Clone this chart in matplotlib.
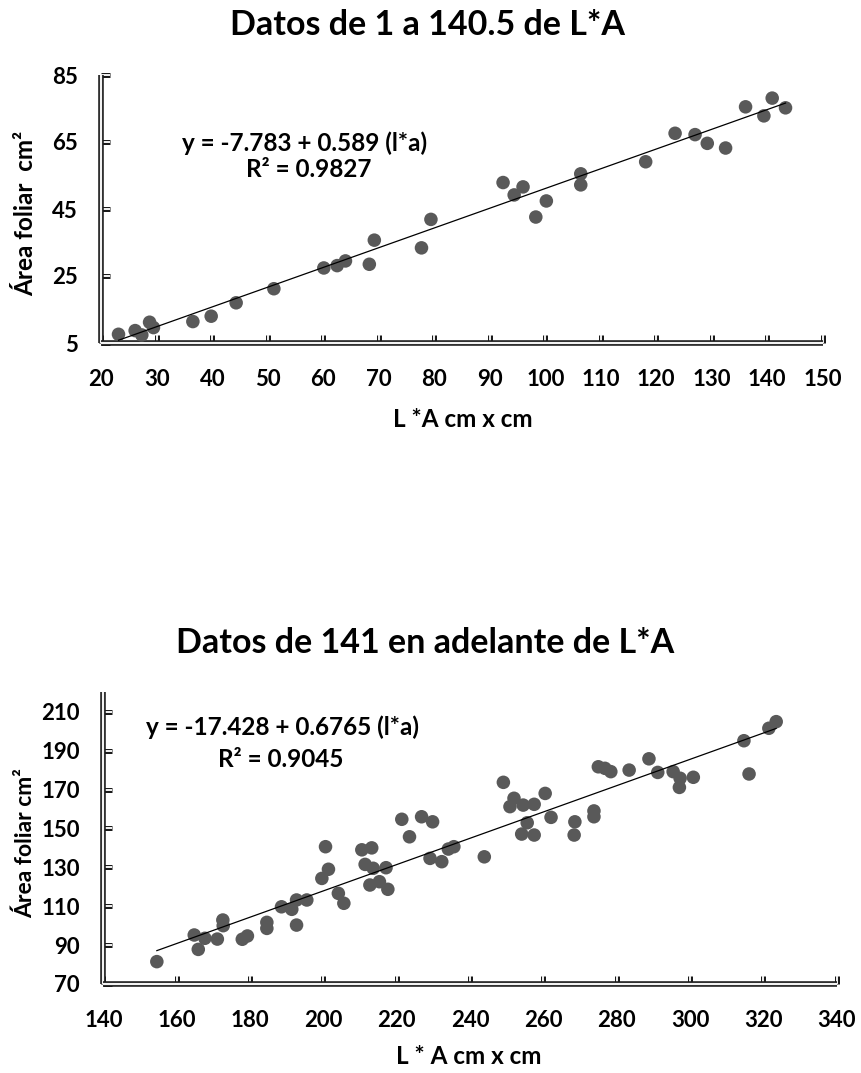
import matplotlib
matplotlib.use("Agg")
import matplotlib.pyplot as plt
import matplotlib.patheffects as pe
import numpy as np

plt.rcParams['font.family'] = ['Lato', 'DejaVu Sans']
plt.rcParams['font.weight'] = 'bold'

# ---- Data: top chart (L*A from 1 to 140.5) ----
top_x = [23.1, 26.1, 27.3, 28.7, 29.4, 36.5, 39.8, 44.3, 51.1, 60.1, 62.5, 64.0,
         68.3, 69.2, 77.7, 79.4, 92.4, 94.4, 96.0, 100.2, 98.3, 106.4, 106.4,
         118.1, 123.4, 127.0, 129.2, 132.5, 136.1, 139.4, 140.9, 143.3]
top_y = [7.6, 8.7, 7.4, 11.2, 9.6, 11.4, 13.0, 17.0, 21.2, 27.4, 28.1, 29.5,
         28.5, 35.7, 33.4, 41.9, 52.9, 49.2, 51.6, 47.4, 42.6, 55.5, 52.2,
         59.1, 67.6, 67.2, 64.6, 63.2, 75.5, 72.8, 78.1, 75.2]
top_a, top_b = -7.783, 0.589
top_xticks = list(range(20, 151, 10))
top_yticks = [5, 25, 45, 65, 85]

# ---- Data: bottom chart (L*A from 141 on) ----
bot_x = [154.6, 164.8, 165.9, 167.7, 171.1, 172.6, 172.7, 177.9, 179.3, 184.6,
         184.6, 188.6, 191.4, 192.7, 192.7, 195.5, 199.6, 201.4, 200.6, 204.1,
         205.6, 210.5, 213.2, 211.4, 213.6, 212.7, 215.3, 217.1, 217.6, 221.4,
         223.5, 226.8, 229.8, 229.1, 232.3, 234.1, 235.6, 243.9, 249.1, 250.9,
         252.0, 254.5, 257.5, 255.6, 254.1, 257.5, 260.5, 262.1, 268.6, 268.4,
         273.8, 273.8, 275.0, 276.8, 278.4, 283.4, 288.8, 291.2, 295.4, 297.3,
         297.1, 300.9, 314.7, 316.1, 321.5, 323.5]
bot_y = [81.5, 95.2, 87.8, 93.5, 93.1, 102.9, 100.0, 93.0, 94.7, 101.7,
         98.6, 109.7, 108.4, 113.2, 100.3, 113.2, 124.3, 129.0, 140.6, 116.6,
         111.5, 139.0, 140.0, 131.5, 129.5, 120.9, 122.6, 129.8, 118.7, 154.7,
         145.7, 156.0, 153.4, 134.6, 132.9, 139.4, 140.6, 135.4, 173.7, 161.2,
         165.5, 162.0, 162.4, 152.9, 147.1, 146.6, 168.0, 155.7, 153.4, 146.6,
         159.0, 156.0, 181.7, 180.9, 179.2, 180.0, 185.8, 178.8, 179.2, 175.8,
         171.1, 176.3, 195.1, 178.0, 201.5, 204.9]
bot_a, bot_b = -17.428, 0.6765
bot_xticks = list(range(140, 341, 20))
bot_yticks = list(range(70, 211, 20))

fig = plt.figure(figsize=(8.61, 10.73), dpi=100)
W, H = 861, 1073

def make_axes(l, r, t, b):
    return fig.add_axes([l / W, 1 - b / H, (r - l) / W, (b - t) / H])

ax1 = make_axes(101.3, 822.7, 75, 343)
ax2 = make_axes(103.3, 836.7, 692.3, 984)

def style(ax, xlim, ylim, xticks, yticks):
    ax.set_xlim(*xlim)
    ax.set_ylim(*ylim)
    ax.set_xticks(xticks)
    ax.set_yticks(yticks)
    for s in ['top', 'right']:
        ax.spines[s].set_visible(False)
    stroke = [pe.Stroke(linewidth=4.0, foreground='#1a1a1a'), pe.Normal()]
    for s in ['left', 'bottom']:
        ax.spines[s].set_color('#f2f2f2')
        ax.spines[s].set_linewidth(1.6)
        ax.spines[s].set_path_effects(stroke)
        ax.spines[s].set_capstyle('butt')
    ax.tick_params(direction='in', length=6, width=1.4, color='#f2f2f2',
                   labelsize=16)
    ax.tick_params(axis='x', pad=19)
    ax.tick_params(axis='y', pad=17)
    for tk in ax.xaxis.get_major_ticks() + ax.yaxis.get_major_ticks():
        tk.tick1line.set_path_effects([pe.Stroke(linewidth=3.6, foreground='#1a1a1a'), pe.Normal()])
    for lab in ax.get_xticklabels() + ax.get_yticklabels():
        lab.set_fontweight('bold')

def draw(ax, xs, ys, a, b):
    ax.scatter(xs, ys, s=95, color='#595959', edgecolors='none', zorder=3, clip_on=False)
    xx = np.array([min(xs), max(xs)])
    ax.plot(xx, a + b * xx, color='black', lw=0.9, zorder=4)

draw(ax1, top_x, top_y, top_a, top_b)
style(ax1, (20, 150), (5, 85), top_xticks, top_yticks)
draw(ax2, bot_x, bot_y, bot_a, bot_b)
style(ax2, (140, 340), (70, 220), bot_xticks, bot_yticks)

fig.text(428 / W, 1 - 25 / H, 'Datos de 1 a 140.5 de L*A', ha='center', va='center',
         fontsize=24.5, fontweight='bold')
fig.text(425 / W, 1 - 643 / H, 'Datos de 141 en adelante de L*A', ha='center', va='center',
         fontsize=24.5, fontweight='bold')

ax1.text(0.282, 0.746, 'y = -7.783 + 0.589 (l*a)', transform=ax1.transAxes,
         ha='center', va='center', fontsize=17.5, fontweight='bold')
ax1.text(0.288, 0.646, 'R² = 0.9827', transform=ax1.transAxes,
         ha='center', va='center', fontsize=17.5, fontweight='bold')
ax2.text(0.245, 0.881, 'y = -17.428 + 0.6765 (l*a)', transform=ax2.transAxes,
         ha='center', va='center', fontsize=17.5, fontweight='bold')
ax2.text(0.242, 0.768, 'R² = 0.9045', transform=ax2.transAxes,
         ha='center', va='center', fontsize=17.5, fontweight='bold')

fig.text(463 / W, 1 - 419 / H, 'L *A cm x cm', ha='center', va='center',
         fontsize=17.5, fontweight='bold')
fig.text(26 / W, 1 - 213 / H, 'Área foliar  cm²', ha='center', va='center',
         rotation=90, fontsize=17.5, fontweight='bold')
fig.text(469 / W, 1 - 1057 / H, 'L * A cm x cm', ha='center', va='center',
         fontsize=17.5, fontweight='bold')
fig.text(25 / W, 1 - 843 / H, 'Área foliar cm²', ha='center', va='center',
         rotation=90, fontsize=16.5, fontweight='bold')

fig.savefig('out.png', dpi=100)
